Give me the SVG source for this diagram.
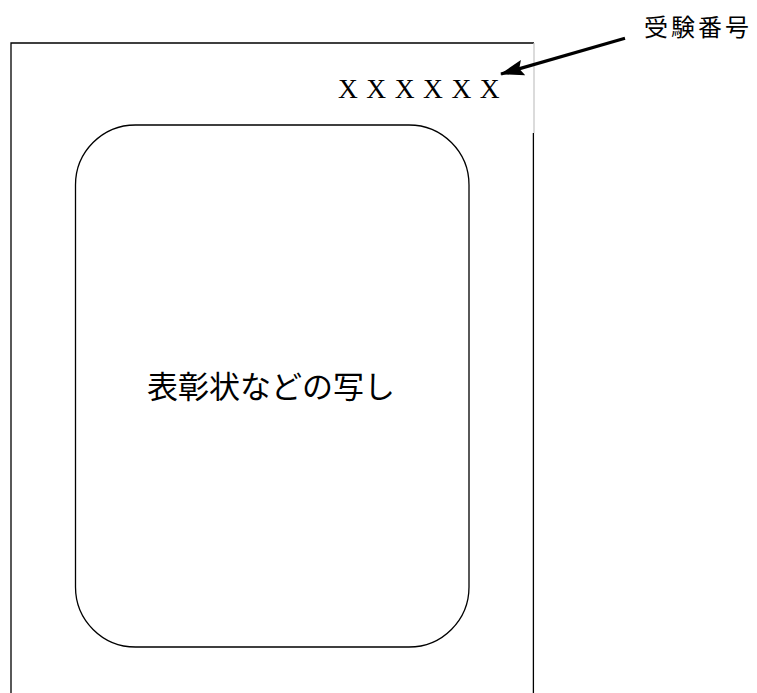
<svg xmlns="http://www.w3.org/2000/svg" width="757" height="693" viewBox="0 0 757 693">
<style>
.ln{fill:none;stroke:#000;stroke-width:1.3}
.jp{font-family:"Noto Sans CJK JP","Noto Sans CJK SC",sans-serif;fill:#000}
.lat{font-family:"Liberation Serif",serif;fill:#000}
</style>
<defs>
<marker id="ah" markerUnits="userSpaceOnUse" markerWidth="26" markerHeight="18" refX="23" refY="9" orient="auto">
<path d="M0,1 L24,9 L0,17 L4,9 Z" fill="#000"/>
</marker>
</defs>
<rect width="757" height="693" fill="#fff"/>
<g id="sheet">
<path class="ln" d="M11,693 V43 H534"/>
<path d="M534,43 V133" fill="none" stroke="#c8c8c8" stroke-width="1.3"/>
<path class="ln" d="M533.4,133 V693"/>
</g>
<g id="number">
<text class="lat" x="338" y="97.5" font-size="27.5" letter-spacing="8.5">XXXXXX</text>
</g>
<g id="photo">
<rect class="ln" x="75.5" y="125" width="393.5" height="522" rx="60" ry="60"/>
<text class="jp" x="271" y="398" font-size="31" text-anchor="middle">表彰状などの写し</text>
</g>
<g id="label">
<text class="jp" x="644" y="36" font-size="24" letter-spacing="3">受験番号</text>
</g>
<g id="connectors">
<line x1="625" y1="38.3" x2="501" y2="74" stroke="#000" stroke-width="3.2" marker-end="url(#ah)"/>
</g>
</svg>
